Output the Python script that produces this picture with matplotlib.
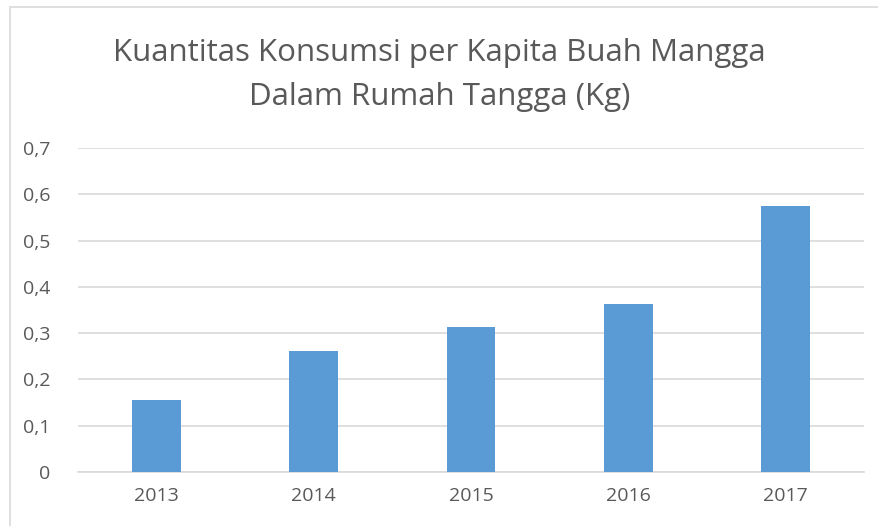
import matplotlib.pyplot as plt
from matplotlib.patches import Rectangle
from matplotlib.ticker import FuncFormatter

# ─── Data ────────────────────────────────────────────────────────────────────
years = ["2013", "2014", "2015", "2016", "2017"]
konsumsi = [0.155, 0.261, 0.313, 0.364, 0.575]
y_ticks = [0, 0.1, 0.2, 0.3, 0.4, 0.5, 0.6, 0.7]

TITLE = "Kuantitas Konsumsi per Kapita Buah Mangga\nDalam Rumah Tangga (Kg)"
BAR_COLOR = "#5B9BD5"
TEXT_COLOR = "#595959"
GRID_COLOR = "#D9D9D9"

plt.rcParams["font.family"] = ["Open Sans", "DejaVu Sans"]

fig = plt.figure(figsize=(8.79, 5.26), dpi=100)
ax = fig.add_axes([78 / 879, 1 - 472 / 526, 786 / 879, 324 / 526])

# chart border (Excel style, cut at right/bottom)
fig.patches.append(Rectangle((10 / 879, -0.1), 1.2, 1.1 - 7 / 526,
                             transform=fig.transFigure, fill=False,
                             edgecolor="#D9D9D9", lw=1.2))

x = range(len(years))
ax.bar(x, konsumsi, width=0.31, color=BAR_COLOR, zorder=3)

ax.set_xlim(-0.5, len(years) - 0.5)
ax.set_ylim(0, 0.7)
ax.set_yticks(y_ticks)
ax.yaxis.set_major_formatter(FuncFormatter(
    lambda v, _: "0" if v == 0 else f"{v:.1f}".replace(".", ",")))
ax.set_xticks(list(x))
ax.set_xticklabels(years)

ax.grid(axis="y", color=GRID_COLOR, lw=1.2, zorder=0)
for side in ["top", "right", "left"]:
    ax.spines[side].set_visible(False)
ax.spines["bottom"].set_color(GRID_COLOR)
ax.spines["bottom"].set_linewidth(1.2)
ax.tick_params(length=0, colors=TEXT_COLOR, labelsize=14)
ax.tick_params(axis="x", pad=11)
ax.tick_params(axis="y", pad=20)

fig.text(0.5, 1 - 75 / 526, TITLE, ha="center", va="center",
         fontsize=22.5, color=TEXT_COLOR, linespacing=1.62)

fig.savefig("out.png", dpi=100, facecolor="white")
